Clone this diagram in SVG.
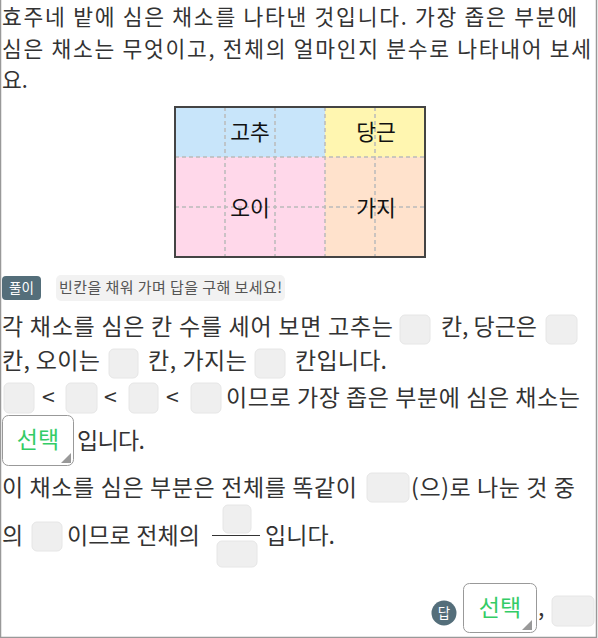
<svg xmlns="http://www.w3.org/2000/svg" width="598" height="638" viewBox="0 0 598 638">
<style>
.t{font-family:"Noto Sans CJK KR","Noto Sans",sans-serif;font-size:23px;fill:#333}
.q{font-size:21.5px}
.lab{font-family:"Noto Sans CJK KR",sans-serif;font-size:21.5px;fill:#111;text-anchor:middle}
.bx{fill:#efefef;stroke:#e6e6e6;stroke-width:1}
.sel{fill:#fff;stroke:#999;stroke-width:1}
.selt{font-family:"Noto Sans CJK KR",sans-serif;font-size:23px;fill:#33cc66;text-anchor:middle}
.tri{fill:#999}
.grid{stroke:#bbb;stroke-width:1.5;stroke-dasharray:4 3;fill:none}
.badge{fill:#546e7a}
.bt{font-family:"Noto Sans CJK KR",sans-serif;font-size:13.5px;fill:#fff;text-anchor:middle}
</style>
<rect x="0" y="0" width="598" height="638" fill="#fff"/>
<path d="M0.5 0 V637.5 H596.5 V0" fill="none" stroke="#999" stroke-width="1.5"/>

<g id="question">
<text class="t q" x="2" y="25.2" textLength="575" lengthAdjust="spacing">효주네 밭에 심은 채소를 나타낸 것입니다. 가장 좁은 부분에</text>
<text class="t q" x="2" y="56.6" textLength="589" lengthAdjust="spacing">심은 채소는 무엇이고, 전체의 얼마인지 분수로 나타내어 보세</text>
<text class="t q" x="2" y="88">요.</text>
</g>

<g id="field">
<rect x="175" y="107" width="150" height="50" fill="#c8e5fa"/>
<rect x="325" y="107" width="100" height="50" fill="#fff6b0"/>
<rect x="175" y="157" width="150" height="100" fill="#ffd8ea"/>
<rect x="325" y="157" width="100" height="100" fill="#ffe2cc"/>
<path class="grid" d="M225 107V257M275 107V257M325 107V257M375 107V257M175 157H425M175 207H425"/>
<rect x="175" y="107" width="250" height="150" fill="none" stroke="#444" stroke-width="2"/>
<text class="lab" x="250" y="140">고추</text>
<text class="lab" x="376" y="140">당근</text>
<text class="lab" x="250" y="216">오이</text>
<text class="lab" x="376" y="216">가지</text>
</g>

<g id="hint">
<rect class="badge" x="2" y="276" width="39" height="24" rx="4"/>
<text class="bt" x="21.5" y="293">풀이</text>
<rect x="56" y="275" width="229" height="26" rx="5" fill="#f2f2f2"/>
<text x="59" y="293" font-family="'Noto Sans CJK KR',sans-serif" font-size="15" fill="#555" textLength="223" lengthAdjust="spacing">빈칸을 채워 가며 답을 구해 보세요!</text>
</g>

<g id="solution">
<text class="t" x="2" y="335" textLength="391" lengthAdjust="spacing">각 채소를 심은 칸 수를 세어 보면 고추는</text>
<rect class="bx" x="400" y="315" width="30" height="29" rx="5"/>
<text class="t" x="441" y="335" textLength="96" lengthAdjust="spacing">칸, 당근은</text>
<rect class="bx" x="546" y="315" width="31" height="29" rx="5"/>

<text class="t" x="2" y="369" textLength="98" lengthAdjust="spacing">칸, 오이는</text>
<rect class="bx" x="109" y="349" width="29" height="29" rx="5"/>
<text class="t" x="148" y="369" textLength="99" lengthAdjust="spacing">칸, 가지는</text>
<rect class="bx" x="255" y="349" width="30" height="29" rx="5"/>
<text class="t" x="295" y="369" textLength="92" lengthAdjust="spacing">칸입니다.</text>

<rect class="bx" x="4" y="383" width="30" height="30" rx="5"/>
<text class="t" x="42" y="406">&lt;</text>
<rect class="bx" x="66" y="383" width="31" height="30" rx="5"/>
<text class="t" x="104" y="406">&lt;</text>
<rect class="bx" x="129" y="383" width="29" height="30" rx="5"/>
<text class="t" x="166" y="406">&lt;</text>
<rect class="bx" x="191" y="383" width="30" height="30" rx="5"/>
<text class="t" x="226" y="406" textLength="354" lengthAdjust="spacing">이므로 가장 좁은 부분에 심은 채소는</text>

<rect class="sel" x="2.5" y="415.5" width="71" height="50" rx="6"/>
<text class="selt" x="38" y="448">선택</text>
<path class="tri" d="M61 463 L71 453 L71 463 Z"/>
<text class="t" x="77" y="449" textLength="68" lengthAdjust="spacing">입니다.</text>

<text class="t" x="2" y="496" textLength="355" lengthAdjust="spacing">이 채소를 심은 부분은 전체를 똑같이</text>
<rect class="bx" x="367" y="473" width="42" height="29" rx="5"/>
<text class="t" x="411" y="496" textLength="164" lengthAdjust="spacing">(으)로 나눈 것 중</text>

<text class="t" x="2" y="544">의</text>
<rect class="bx" x="32" y="522" width="30" height="29" rx="5"/>
<text class="t" x="67" y="544" textLength="133" lengthAdjust="spacing">이므로 전체의</text>
<rect class="bx" x="223" y="505" width="28" height="28" rx="5"/>
<line x1="212" y1="535.5" x2="260" y2="535.5" stroke="#333" stroke-width="1.2"/>
<rect class="bx" x="217" y="541" width="40" height="26" rx="5"/>
<text class="t" x="265" y="544" textLength="70" lengthAdjust="spacing">입니다.</text>
</g>

<g id="answer">
<circle class="badge" cx="444" cy="613" r="12.5"/>
<text class="bt" x="444" y="618">답</text>
<rect class="sel" x="463.5" y="583.5" width="73" height="49" rx="6"/>
<text class="selt" x="500" y="616">선택</text>
<path class="tri" d="M522 630 L532 620 L532 630 Z"/>
<text class="t" x="538" y="616">,</text>
<rect class="bx" x="552" y="596" width="42" height="30" rx="5"/>
</g>
</svg>
